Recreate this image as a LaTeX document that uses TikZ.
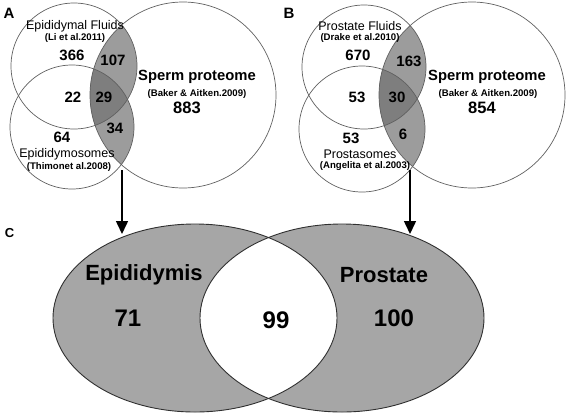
\documentclass[tikz,border=0pt]{standalone}
\usepackage{fontspec}
\setmainfont{Liberation Sans}
\usetikzlibrary{arrows.meta}
\definecolor{lensgray}{HTML}{9C9C9C}
\definecolor{coregray}{HTML}{7E7E7E}
\definecolor{ovalgray}{HTML}{A6A6A6}
\definecolor{ringline}{HTML}{606060}
\definecolor{ovalline}{HTML}{303030}
\begin{document}
\begin{tikzpicture}[x=1pt,y=-1pt,
  ring/.style={draw=ringline,line width=0.7pt},
  oval/.style={draw=ovalline,line width=0.9pt},
  panel/.style={font=\bfseries\fontsize{15}{15}\selectfont,inner sep=0pt},
  src/.style={font=\fontsize{12.5}{12.5}\selectfont,inner sep=0pt},
  cite/.style={font=\bfseries\fontsize{9.6}{9.6}\selectfont,inner sep=0pt},
  sperm/.style={font=\bfseries\fontsize{14.8}{14.8}\selectfont,inner sep=0pt},
  num/.style={font=\bfseries\fontsize{15}{15}\selectfont,inner sep=0pt},
  bignum/.style={font=\bfseries\fontsize{16.5}{16.5}\selectfont,inner sep=0pt},
  ctitle/.style={font=\bfseries\fontsize{22}{22}\selectfont,inner sep=0pt},
  cnum/.style={font=\bfseries\fontsize{24}{24}\selectfont,inner sep=0pt},
  link/.style={line width=1.5pt,-{Triangle[width=12pt,length=13pt]}}]
\useasboundingbox (0,0) rectangle (567,416);

% ---------- Panel A ----------
\begin{scope}
  \clip (183,95) circle[radius=93pt];
  \fill[lensgray] (74,66) circle[radius=63pt];
  \fill[lensgray] (72,127) circle[radius=62pt];
  \clip (74,66) circle[radius=63pt];
  \clip (72,127) circle[radius=62pt];
  \fill[coregray] (183,95) circle[radius=93pt];
\end{scope}
\draw[ring] (74,66) circle[radius=63pt];
\draw[ring] (72,127) circle[radius=62pt];
\draw[ring] (183,95) circle[radius=93pt];

\node[panel] (lA) at (9,13) {A};
\node[src] (efA) at (75,26) {Epididymal Fluids};
\node[cite] (liA) at (75,38) {(Li et al.2011)};
\node[num] (n366) at (72,55) {366};
\node[num] (n107) at (113,60) {107};
\node[num] (n22) at (73,97) {22};
\node[num] (n29) at (104,97) {29};
\node[num] (n34) at (115,128) {34};
\node[num] (n64) at (62,137) {64};
\node[src] (emA) at (67,154) {Epididymosomes};
\node[cite] (thA) at (69,167) {(Thimonet al.2008)};
\node[sperm] (spA) at (197,77) {Sperm proteome};
\node[cite] (bkA) at (197,94) {(Baker \& Aitken.2009)};
\node[bignum] (n883) at (187,108) {883};

% ---------- Panel B ----------
\begin{scope}
  \clip (472,95) circle[radius=93pt];
  \fill[lensgray] (364,67) circle[radius=62pt];
  \fill[lensgray] (362,129) circle[radius=63pt];
  \clip (364,67) circle[radius=62pt];
  \clip (362,129) circle[radius=63pt];
  \fill[coregray] (472,95) circle[radius=93pt];
\end{scope}
\draw[ring] (364,67) circle[radius=62pt];
\draw[ring] (362,129) circle[radius=63pt];
\draw[ring] (472,95) circle[radius=93pt];

\node[panel] (lB) at (289,13) {B};
\node[src] (pfB) at (360,26) {Prostate Fluids};
\node[cite] (drB) at (360,38) {(Drake et al.2010)};
\node[num] (n670) at (358,55) {670};
\node[num] (n163) at (409,61) {163};
\node[num] (n53a) at (357,97) {53};
\node[num] (n30) at (397,97) {30};
\node[num] (n6) at (403,134) {6};
\node[num] (n53b) at (351,138) {53};
\node[src] (psB) at (360,154) {Prostasomes};
\node[cite] (anB) at (365,166) {(Angelita et al.2003)};
\node[sperm] (spB) at (487,77) {Sperm proteome};
\node[cite] (bkB) at (488,94) {(Baker \& Aitken.2009)};
\node[bignum] (n854) at (482,108) {854};

% ---------- Panel C ----------
\fill[ovalgray] (195,318) ellipse[x radius=142pt,y radius=94pt];
\fill[ovalgray] (342,318) ellipse[x radius=142pt,y radius=94pt];
\begin{scope}
  \clip (195,318) ellipse[x radius=142pt,y radius=94pt];
  \fill[white] (342,318) ellipse[x radius=142pt,y radius=94pt];
\end{scope}
\draw[oval] (195,318) ellipse[x radius=142pt,y radius=94pt];
\draw[oval] (342,318) ellipse[x radius=142pt,y radius=94pt];

\node[panel,font=\bfseries\fontsize{13}{13}\selectfont] (lC) at (9.5,233) {C};
\node[ctitle] (epi) at (144,275) {Epididymis};
\node[cnum] (n71) at (128,318) {71};
\node[cnum] (n99) at (276,320) {99};
\node[ctitle] (pro) at (384,275) {Prostate};
\node[cnum] (n100) at (394,318) {100};

% ---------- arrows ----------
\coordinate (aS) at (122,170);
\coordinate (aE) at (122,234);
\coordinate (bS) at (410,170);
\coordinate (bE) at (410,234);
\draw[link] (aS) -- (aE);
\draw[link] (bS) -- (bE);
\end{tikzpicture}
\end{document}
